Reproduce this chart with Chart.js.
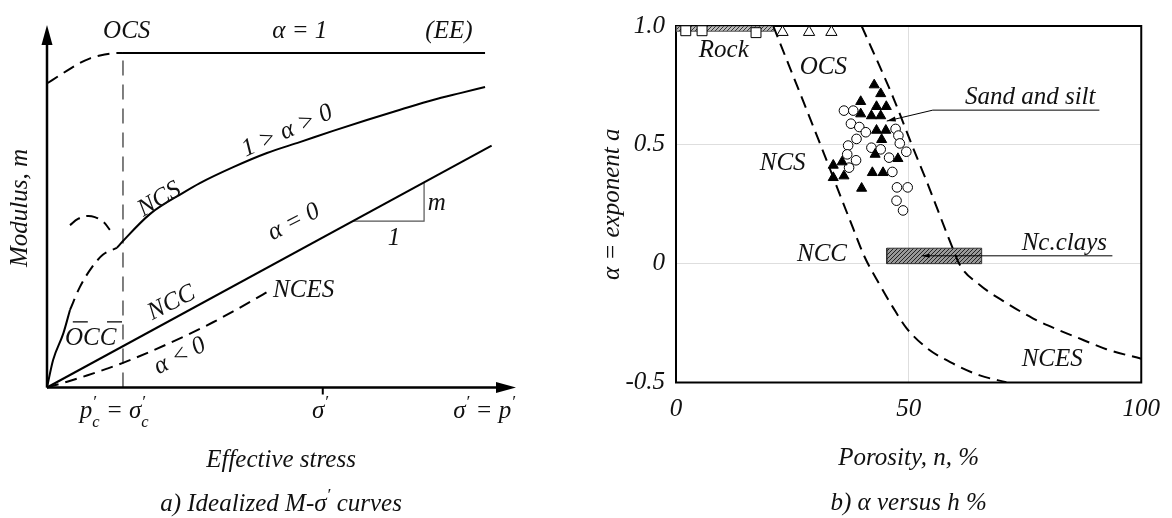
<!DOCTYPE html>
<html>
<head>
<meta charset="utf-8">
<script src="https://cdn.jsdelivr.net/npm/chart.js@4.4.0/dist/chart.umd.min.js"></script>
<style>
  html, body { margin: 0; padding: 0; background: #fff; }
  #wrap { display: flex; width: 1172px; height: 518px; }
  canvas { display: block; }
</style>
</head>
<body>
<div id="wrap">
  <canvas id="curves" width="586" height="518"></canvas>
  <canvas id="porosity" width="586" height="518"></canvas>
</div>
<script>
// ---- a) idealized M-sigma' curves (both axes 0..100, arbitrary units)
const eeX = [16.2, 93.4];
const eeY = [92.3, 92.3];
const ocsArcX = [0.15, 2.8, 4.9, 7.0, 9.2, 11.3, 14.1, 16.2];
const ocsArcY = [84.0, 86.2, 87.9, 89.5, 90.8, 91.6, 92.2, 92.3];
const ncsX = [14.9, 16.2, 22.0, 29.0, 32.6, 39.7, 46.9, 53.9, 61.0, 68.2, 75.3, 82.3, 88.1, 93.4];
const ncsY = [38.5, 40.4, 47.9, 53.7, 56.4, 60.8, 64.7, 67.7, 70.8, 73.8, 76.6, 79.3, 81.2, 82.9];
const ncsLinkX = [4.9, 7.0, 9.6, 11.9, 14.9];
const ncsLinkY = [21.4, 27.7, 33.2, 36.6, 38.5];
const occX = [0, 1.3, 3.5, 4.9];
const occY = [0, 7.6, 15.0, 21.4];
const capX = [4.9, 6.6, 8.5, 10.2, 12.0, 13.4];
const capY = [44.8, 46.5, 47.3, 47.0, 45.7, 43.5];
const nccX = [0, 94.8];
const nccY = [0, 66.7];
const ncesX = [0, 4.3, 8.5, 12.8, 16.2, 21.3, 29.9, 35.4, 39.7, 46.1, 48.0];
const ncesY = [0, 1.6, 3.3, 5.2, 6.8, 9.5, 14.5, 18.0, 21.0, 25.7, 27.2];
const pcX = [16.2, 16.2];
const pcY = [0, 92.3];
const slopeX = [65.2, 80.4, 80.4];
const slopeY = [45.9, 45.9, 56.6];
const sigmaTick = 58.8;

// ---- b) alpha versus porosity
const rockN = [0, 21];
const rockA = [0.978, 1.0];
const clayN = [45.3, 65.7];
const clayA = [0, 0.065];
const nccBoundN = [20.9, 30.9, 38.1, 40.5, 43.8, 46.7, 49.5, 53.8, 59.5, 65.3, 71.0];
const nccBoundA = [1.0, 0.508, 0.147, 0.03, -0.089, -0.186, -0.27, -0.353, -0.42, -0.47, -0.499];
const ocsBoundN = [39.9, 46.6, 51.1, 53.7, 59.5, 61.0, 65.3, 71.0, 76.7, 81.7, 87.4, 92.5, 100];
const ocsBoundA = [1.0, 0.703, 0.48, 0.355, 0.064, -0.005, -0.09, -0.165, -0.23, -0.275, -0.32, -0.36, -0.4];
const sandTriN = [42.6, 44.0, 39.7, 43.1, 45.2, 39.7, 42.0, 44.0, 43.1, 45.1, 44.2, 42.8, 47.7, 33.8, 35.7, 33.8, 36.1, 42.2, 44.5, 39.9];
const sandTriA = [0.752, 0.715, 0.682, 0.661, 0.661, 0.630, 0.622, 0.622, 0.561, 0.561, 0.522, 0.460, 0.442, 0.414, 0.428, 0.362, 0.369, 0.383, 0.383, 0.317];
const siltCircN = [36.1, 38.1, 37.6, 39.4, 40.8, 38.8, 47.2, 47.8, 48.1, 49.5, 37.0, 36.8, 42.0, 44.0, 45.8, 38.7, 37.2, 46.5, 47.5, 49.8, 47.4, 48.8];
const siltCircA = [0.644, 0.644, 0.589, 0.575, 0.553, 0.525, 0.567, 0.539, 0.506, 0.471, 0.497, 0.460, 0.488, 0.481, 0.446, 0.435, 0.404, 0.386, 0.321, 0.321, 0.265, 0.224];
const rockSqN = [2.1, 5.6, 17.2];
const rockSqA = [0.98, 0.98, 0.972];
const openTriN = [22.9, 28.6, 33.4];
const openTriA = [0.974, 0.974, 0.974];
const sandLeadN = [91, 55.2, 45.3];
const sandLeadA = [0.646, 0.646, 0.6];
const clayLeadN = [93.8, 52.8];
const clayLeadA = [0.033, 0.033];
const alphaTicks = [-0.5, 0, 0.5, 1];
const alphaTickText = ['-0.5', '0', '0.5', '1.0'];

const SERIF = '"Liberation Serif", "Times New Roman", serif';
const fnt = (s) => `italic ${s}px ${SERIF}`;
const pts = (xs, ys) => xs.map((x, i) => ({ x, y: ys[i] }));
const box = (xs, ys) => pts([xs[0], xs[1], xs[1], xs[0], xs[0]], [ys[0], ys[0], ys[1], ys[1], ys[0]]);

function line(xs, ys, extra) {
  return Object.assign({
    data: pts(xs, ys), showLine: true, pointRadius: 0, borderColor: '#000',
    borderWidth: 2, fill: false, clip: false, order: 1
  }, extra || {});
}

function hatch(bg, fg) {
  const c = document.createElement('canvas');
  c.width = c.height = 4;
  const g = c.getContext('2d');
  g.fillStyle = bg; g.fillRect(0, 0, 4, 4);
  g.strokeStyle = fg; g.lineWidth = 1;
  g.beginPath(); g.moveTo(-1, 5); g.lineTo(5, -1); g.stroke();
  return g.createPattern(c, 'repeat');
}

// draws text made of runs: ['p','n'], ['′','sup'], ['c','sub'] ...
function rich(ctx, parts, x, y, align, size) {
  size = size || 25;
  const sizes = { n: size, sup: size * 0.7, sub: size * 0.66 };
  const shift = { n: 0, sup: -size * 0.45, sub: size * 0.36 };
  const layout = [];
  let cx = 0, supStart = null, supW = 0;
  parts.forEach(([t, k]) => {
    ctx.font = fnt(sizes[k]);
    const w = ctx.measureText(t).width;
    if (k === 'sub' && supStart !== null) {
      layout.push([t, k, supStart]);
      cx = supStart + Math.max(w, supW);
      supStart = null;
    } else {
      layout.push([t, k, cx]);
      if (k === 'sup') { supStart = cx; supW = w; } else supStart = null;
      cx += w;
    }
  });
  let x0 = x;
  if (align === 'center') x0 = x - cx / 2;
  layout.forEach(([t, k, off]) => {
    ctx.font = fnt(sizes[k]);
    ctx.fillText(t, x0 + off, y + shift[k]);
  });
}

function arrowHead(ctx, x0, y0, x1, y1, len, half) {
  const a = Math.atan2(y1 - y0, x1 - x0);
  const c = Math.cos(a), s = Math.sin(a);
  ctx.beginPath();
  ctx.moveTo(x1, y1);
  ctx.lineTo(x1 - len * c + half * s, y1 - len * s - half * c);
  ctx.lineTo(x1 - len * c - half * s, y1 - len * s + half * c);
  ctx.closePath();
  ctx.fill();
}

// text for panel a: parts, x, y (data units), rotation deg, align
const notesA = [
  [[['OCS', 'n']], 17.0, 96.4, 0, 'center'],
  [[['α = 1', 'n']], 53.9, 96.4, 0, 'center'],
  [[['(EE)', 'n']], 85.7, 96.4, 0, 'center'],
  [[['1 > α > 0', 'n']], 51.8, 69.1, -24, 'center'],
  [[['NCS', 'n']], 24.7, 50.3, -31, 'center'],
  [[['α = 0', 'n']], 53.3, 44.0, -27, 'center'],
  [[['m', 'n']], 81.2, 49.0, 0, 'left'],
  [[['1', 'n']], 74.0, 39.3, 0, 'center'],
  [[['NCC', 'n']], 27.2, 21.7, -27, 'center'],
  [[['NCES', 'n']], 48.2, 25.0, 0, 'left'],
  [[['α < 0', 'n']], 29.0, 7.0, -27, 'center'],
  [[['OCC', 'n']], 3.84, 11.7, 0, 'left'],
  [[['p', 'n'], ['′', 'sup'], ['c', 'sub'], [' = ', 'n'], ['σ', 'n'], ['′', 'sup'], ['c', 'sub']], 7.0, -8.4, 0, 'left'],
  [[['σ', 'n'], ['′', 'sup']], 56.5, -8.4, 0, 'left'],
  [[['σ', 'n'], ['′', 'sup'], [' = ', 'n'], ['p', 'n'], ['′', 'sup']], 86.6, -8.4, 0, 'left'],
  [[['Effective stress', 'n']], 49.9, -21.9, 0, 'center'],
  [[['a) Idealized M-σ', 'n'], ['′', 'sup'], [' curves', 'n']], 49.9, -34.1, 0, 'center'],
  [[['Modulus, m', 'n']], -5.6, 49.5, -90, 'center']
];

const decorA = {
  id: 'decorA',
  afterDraw(chart) {
    const { ctx } = chart;
    const sx = chart.scales.x, sy = chart.scales.y;
    const X = (v) => sx.getPixelForValue(v), Y = (v) => sy.getPixelForValue(v);
    ctx.save();
    ctx.strokeStyle = '#000'; ctx.fillStyle = '#000'; ctx.lineWidth = 2.5;
    // axes with arrows
    ctx.beginPath();
    ctx.moveTo(X(0), Y(0)); ctx.lineTo(X(100) - 16, Y(0));
    ctx.moveTo(X(0), Y(0)); ctx.lineTo(X(0), Y(100) + 16);
    ctx.stroke();
    arrowHead(ctx, X(0), Y(0), X(100), Y(0), 20, 5.5);
    arrowHead(ctx, X(0), Y(0), X(0), Y(100), 20, 5.5);
    // sigma' tick
    ctx.lineWidth = 2;
    ctx.beginPath(); ctx.moveTo(X(sigmaTick), Y(0)); ctx.lineTo(X(sigmaTick), Y(0) + 7); ctx.stroke();
    // overline on OCC
    ctx.lineWidth = 1.2;
    ctx.beginPath();
    ctx.moveTo(X(5.5), Y(18.1)); ctx.lineTo(X(8.7), Y(18.1));
    ctx.moveTo(X(12.8), Y(18.1)); ctx.lineTo(X(16.0), Y(18.1));
    ctx.stroke();
    ctx.textBaseline = 'alphabetic';
    ctx.fillStyle = '#111';
    notesA.forEach(([parts, x, y, rot, align]) => {
      ctx.save();
      ctx.translate(X(x), Y(y));
      ctx.rotate(rot * Math.PI / 180);
      if (rot === -90) ctx.textBaseline = 'middle';
      rich(ctx, parts, 0, 0, align);
      ctx.restore();
    });
    ctx.restore();
  }
};

new Chart(document.getElementById('curves'), {
  type: 'scatter',
  data: {
    datasets: [
      line(eeX, eeY),
      line(ocsArcX, ocsArcY, { borderDash: [12, 7], cubicInterpolationMode: 'monotone' }),
      line(ncsX, ncsY, { cubicInterpolationMode: 'monotone' }),
      line(ncsLinkX, ncsLinkY, { borderDash: [12, 7], cubicInterpolationMode: 'monotone' }),
      line(occX, occY, { cubicInterpolationMode: 'monotone' }),
      line(capX, capY, { borderDash: [12, 7], tension: 0.4 }),
      line(nccX, nccY),
      line(ncesX, ncesY, { borderDash: [12, 7], cubicInterpolationMode: 'monotone' }),
      line(pcX, pcY, { borderColor: '#555', borderWidth: 1.5, borderDash: [15, 9] }),
      line(slopeX, slopeY, { borderColor: '#555', borderWidth: 1.2 })
    ]
  },
  options: {
    responsive: false,
    animation: false,
    layout: { padding: { left: 47, right: 70, top: 25, bottom: 130.5 } },
    plugins: { legend: { display: false }, tooltip: { enabled: false } },
    scales: {
      x: { type: 'linear', display: false, min: 0, max: 100 },
      y: { type: 'linear', display: false, min: 0, max: 100 }
    }
  },
  plugins: [decorA]
});

// ---- panel b
const notesB = [
  ['Rock', 4.9, 0.871],
  ['OCS', 26.6, 0.80],
  ['NCS', 18.0, 0.396],
  ['NCC', 26.0, 0.0125],
  ['NCES', 74.3, -0.429],
  ['Sand and silt', 62.1, 0.671],
  ['Nc.clays', 74.3, 0.058]
];

const decorB = {
  id: 'decorB',
  beforeDatasetsDraw(chart) {
    const { ctx, chartArea: a } = chart;
    ctx.save();
    ctx.strokeStyle = '#000'; ctx.lineWidth = 2;
    ctx.strokeRect(a.left, a.top, a.right - a.left, a.bottom - a.top);
    ctx.restore();
  },
  afterDraw(chart) {
    const { ctx } = chart;
    const sx = chart.scales.x, sy = chart.scales.y;
    const X = (v) => sx.getPixelForValue(v), Y = (v) => sy.getPixelForValue(v);
    ctx.save();
    ctx.fillStyle = '#000';
    const n1 = sandLeadN.length;
    arrowHead(ctx, X(sandLeadN[n1 - 2]), Y(sandLeadA[n1 - 2]), X(sandLeadN[n1 - 1]), Y(sandLeadA[n1 - 1]), 9, 2.5);
    arrowHead(ctx, X(clayLeadN[0]), Y(clayLeadA[0]), X(clayLeadN[1]), Y(clayLeadA[1]), 8, 2);
    ctx.fillStyle = '#111';
    ctx.textBaseline = 'alphabetic';
    ctx.font = fnt(25);
    notesB.forEach(([t, n, a]) => {
      ctx.textAlign = 'left';
      ctx.fillText(t, X(n), Y(a));
    });
    ctx.textAlign = 'left';
    rich(ctx, [['b) α versus h %', 'n']], X(50), Y(-1.0375), 'center');
    ctx.restore();
  }
};

new Chart(document.getElementById('porosity'), {
  type: 'scatter',
  data: {
    datasets: [
      { data: pts(sandTriN, sandTriA), pointStyle: 'triangle', pointRadius: 5.8, backgroundColor: '#000', borderColor: '#000', borderWidth: 1, clip: false, order: 0 },
      { data: pts(siltCircN, siltCircA), pointStyle: 'circle', pointRadius: 4.8, backgroundColor: '#fff', borderColor: '#000', borderWidth: 1, clip: false, order: 0 },
      { data: pts(rockSqN, rockSqA), pointStyle: 'rect', pointRadius: 7, backgroundColor: '#fff', borderColor: '#000', borderWidth: 1, clip: false, order: 0 },
      { data: pts(openTriN, openTriA), pointStyle: 'triangle', pointRadius: 6.5, backgroundColor: '#fff', borderColor: '#000', borderWidth: 1, clip: false, order: 0 },
      line(nccBoundN, nccBoundA, { borderDash: [12, 7], cubicInterpolationMode: 'monotone', clip: 0 }),
      line(ocsBoundN, ocsBoundA, { borderDash: [12, 7], cubicInterpolationMode: 'monotone', clip: 0 }),
      line(sandLeadN, sandLeadA, { borderWidth: 1 }),
      line(clayLeadN, clayLeadA, { borderWidth: 1 }),
      { data: box(rockN, rockA), showLine: true, pointRadius: 0, fill: 'shape', backgroundColor: hatch('#bbb', '#333'), borderColor: '#555', borderWidth: 1, order: 2 },
      { data: box(clayN, clayA), showLine: true, pointRadius: 0, fill: 'shape', backgroundColor: hatch('#999', '#222'), borderColor: '#333', borderWidth: 1, order: 2 }
    ]
  },
  options: {
    responsive: false,
    animation: false,
    layout: { padding: { left: 0, right: 30, top: 22, bottom: 0 } },
    plugins: { legend: { display: false }, tooltip: { enabled: false } },
    scales: {
      x: {
        type: 'linear', min: 0, max: 100,
        ticks: { stepSize: 50, font: { family: SERIF, size: 25, style: 'italic' }, color: '#111', padding: 12, maxRotation: 0 },
        grid: { color: '#dedede', drawTicks: false },
        border: { display: false },
        title: { display: true, text: 'Porosity, n, %', font: { family: SERIF, size: 25, style: 'italic' }, color: '#111', padding: { top: 0, bottom: 45 } },
        afterFit: (s) => { s.height = 135.5; }
      },
      y: {
        type: 'linear', min: -0.5, max: 1,
        ticks: {
          stepSize: 0.5, font: { family: SERIF, size: 25, style: 'italic' }, color: '#111', padding: 11,
          callback: (v) => { const i = alphaTicks.indexOf(v); return i < 0 ? '' : alphaTickText[i]; }
        },
        grid: { color: '#dedede', drawTicks: false },
        border: { display: false },
        title: { display: true, text: 'α = exponent a', font: { family: SERIF, size: 25, style: 'italic' }, color: '#111', padding: { top: 11, bottom: 0 } },
        afterFit: (s) => { s.width = 90; }
      }
    }
  },
  plugins: [decorB]
});
</script>
</body>
</html>
